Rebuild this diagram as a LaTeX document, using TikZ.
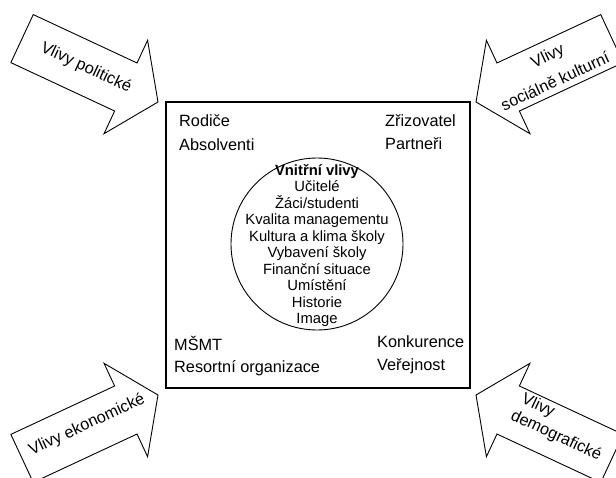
\documentclass[tikz,border=0pt]{standalone}
\usepackage{fontspec}
\setmainfont{Liberation Sans}
\begin{document}
\begin{tikzpicture}[x=1pt,y=-1pt]
\tikzset{
  blockarrow/.style={draw, line width=0.9pt, fill=white, line join=miter},
  pics/influence/.style={code={
    \draw[blockarrow] (0,0) -- (-35.5,-51.5) -- (-35.5,-26.5) -- (-150,-26.5)
      -- (-150,26.5) -- (-35.5,26.5) -- (-35.5,51.5) -- cycle;}},
  outerlbl/.style={font=\fontsize{16.3}{20}\selectfont, anchor=base west, inner sep=0},
  innerlbl/.style={font=\fontsize{14.8}{16.5}\selectfont, anchor=base, inner sep=0},
  arrowlbl/.style={font=\fontsize{16.3}{21}\selectfont, inner sep=0},
  schoolbox/.style={draw, line width=1.1pt, inner sep=0},
  innercircle/.style={draw, circle, line width=0.9pt, inner sep=0}
}
\useasboundingbox (0,0) rectangle (616,477);
\clip (0,0) rectangle (616,477);

% school boundary and the circle of internal influences
\node[schoolbox, minimum width=304pt, minimum height=286pt] (school) at (318,245) {};
\node[innercircle, minimum size=172pt] (core) at (317,244) {};

% internal influences
\foreach \txt [count=\i] in {{\textbf{Vnitřní vlivy}}, Učitelé, Žáci/studenti,
    Kvalita managementu, Kultura a klima školy, Vybavení školy,
    Finanční situace, Umístění, Historie, Image}
  \node[innerlbl] (in\i) at (317,{175+16.55*(\i-1)}) {\txt};

% stakeholders in the corners of the box
\node[outerlbl] (rodice) at (179,126) {Rodiče};
\node[outerlbl] (absolventi) at (179,150) {Absolventi};
\node[outerlbl] (zrizovatel) at (385,126) {Zřizovatel};
\node[outerlbl] (partneri) at (385,149) {Partneři};
\node[outerlbl] (msmt) at (174,350) {MŠMT};
\node[outerlbl] (resortni) at (174,372) {Resortní organizace};
\node[outerlbl] (konkurence) at (377,347) {Konkurence};
\node[outerlbl] (verejnost) at (377,370) {Veřejnost};

% external influences as block arrows pointing at the box corners
\pic[rotate=-25] (politicke) at (158,102) {influence};
\pic[rotate=205] (socialni) at (476,102) {influence};
\pic[rotate=25] (ekonomicke) at (158,395) {influence};
\pic[rotate=155] (demograficke) at (476,395) {influence};

\node[arrowlbl, rotate=-25] (tpol) at (86,68) {Vlivy politické};
\node[arrowlbl, rotate=25] (tsoc1) at (548,57) {Vlivy};
\node[arrowlbl, rotate=25] (tsoc2) at (555,81) {sociálně kulturní};
\node[arrowlbl, rotate=25] (tekon) at (87,425) {Vlivy ekonomické};
\node[arrowlbl, rotate=-25] (tdemo1) at (538,406) {Vlivy};
\node[arrowlbl, rotate=-25] (tdemo2) at (556,436) {demografické};
\end{tikzpicture}
\end{document}
